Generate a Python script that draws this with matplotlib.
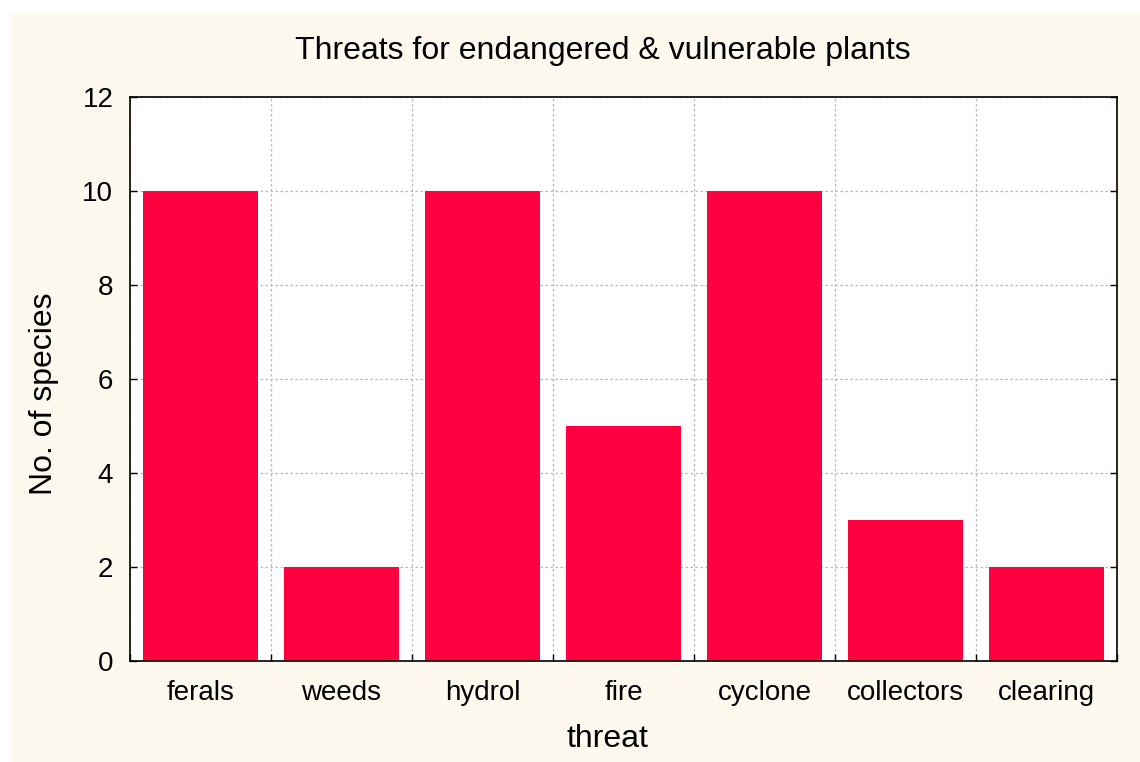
import numpy as np
import matplotlib
matplotlib.use("Agg")
import matplotlib.pyplot as plt
from matplotlib.patches import Rectangle

# threat categories and number of species
threats = ["ferals", "weeds", "hydrol", "fire", "cyclone", "collectors", "clearing"]
species = [10, 2, 10, 5, 10, 3, 2]
yticks = [0, 2, 4, 6, 8, 10, 12]

plt.rcParams['font.family'] = ['Liberation Sans', 'DejaVu Sans']

W, H = 1140, 762
fig = plt.figure(figsize=(W / 100, H / 100), dpi=100, facecolor='white')
# cream panel behind the plot (white strip at left and top)
fig.patches.append(Rectangle((11 / W, 0), 1, 1 - 14 / H, transform=fig.transFigure,
                             facecolor='#fdf9ee', edgecolor='none', zorder=-10))

ax = fig.add_axes([130 / W, 101 / H, 987 / W, 564 / H])
ax.set_facecolor('white')

x = np.arange(len(threats))
ax.bar(x, species, width=0.81, color='#ff0040', zorder=2)

ax.set_xlim(-0.5, len(threats) - 0.5)
ax.set_ylim(0, 12)
ax.set_yticks(yticks)
ax.set_xticks(x)
ax.set_xticklabels(threats)
ax.set_xticks(np.arange(len(threats) + 1) - 0.5, minor=True)

ax.tick_params(axis='x', which='major', length=0, labelsize=20, pad=14)
ax.tick_params(axis='x', which='minor', direction='in', length=5, width=1, top=False)
ax.tick_params(axis='y', which='major', direction='in', length=5, width=1, right=True,
               labelsize=20, pad=12)

ax.grid(True, axis='y', which='major', color='#b8b8b8', linestyle=(0, (2, 2)), linewidth=0.9, zorder=1)
ax.grid(True, axis='x', which='minor', color='#b8b8b8', linestyle=(0, (2, 2)), linewidth=0.9, zorder=1)
ax.set_axisbelow(True)

for s in ax.spines.values():
    s.set_linewidth(1.2)
    s.set_zorder(3)

fig.text(603 / W, 1 - 59 / H, "Threats for endangered & vulnerable plants",
         fontsize=23, ha='center', va='baseline')
fig.text(607 / W, 1 - 747 / H, "threat", fontsize=23, ha='center', va='baseline')
fig.text(44 / W, 1 - 394 / H, "No. of species", fontsize=23, rotation=90,
         ha='center', va='center')

fig.savefig("out.png", dpi=100, facecolor=fig.get_facecolor())
